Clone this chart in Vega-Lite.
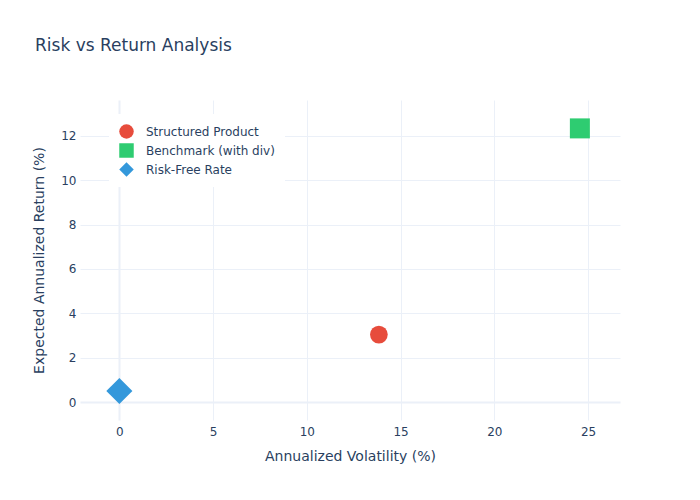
{
  "$schema": "https://vega.github.io/schema/vega-lite/v6.json",
  "width": 540,
  "height": 320,
  "autosize": {"type": "none"},
  "padding": {"left": 80, "top": 100, "right": 80, "bottom": 80},
  "background": "white",
  "title": {
    "text": "Risk vs Return Analysis",
    "anchor": "start",
    "frame": "group",
    "dx": -45,
    "offset": 45,
    "fontSize": 17,
    "fontWeight": "normal",
    "font": "DejaVu Sans",
    "color": "#2a3f5f"
  },
  "config": {
    "view": {"stroke": null},
    "font": "DejaVu Sans"
  },
  "data": {
    "values": [
      {"asset": "Structured Product", "volatility": 13.84, "expected_return": 3.04},
      {"asset": "Benchmark (with div)", "volatility": 24.56, "expected_return": 12.34},
      {"asset": "Risk-Free Rate", "volatility": 0, "expected_return": 0.5}
    ]
  },
  "encoding": {
    "x": {
      "field": "volatility",
      "type": "quantitative",
      "scale": {"domain": [-2.1, 26.7], "nice": false, "zero": false},
      "axis": {
        "title": "Annualized Volatility (%)",
        "values": [0, 5, 10, 15, 20, 25],
        "domain": false,
        "ticks": false,
        "labelPadding": 6,
        "titlePadding": 12,
        "labelFontSize": 12,
        "titleFontSize": 14,
        "titleFontWeight": "normal",
        "labelColor": "#2a3f5f",
        "titleColor": "#2a3f5f",
        "gridColor": "#EBF0F8",
        "gridWidth": {"condition": {"test": "datum.value === 0", "value": 2}, "value": 1}
      }
    },
    "y": {
      "field": "expected_return",
      "type": "quantitative",
      "scale": {"domain": [-0.81, 13.62], "nice": false, "zero": false},
      "axis": {
        "title": "Expected Annualized Return (%)",
        "values": [0, 2, 4, 6, 8, 10, 12],
        "domain": false,
        "ticks": false,
        "labelPadding": 4,
        "titlePadding": 14,
        "labelFontSize": 12,
        "titleFontSize": 14,
        "titleFontWeight": "normal",
        "labelColor": "#2a3f5f",
        "titleColor": "#2a3f5f",
        "gridColor": "#EBF0F8",
        "gridWidth": {"condition": {"test": "datum.value === 0", "value": 2}, "value": 1}
      }
    },
    "color": {
      "field": "asset",
      "type": "nominal",
      "scale": {
        "domain": ["Structured Product", "Benchmark (with div)", "Risk-Free Rate"],
        "range": ["#E74C3C", "#2ECC71", "#3498DB"]
      },
      "legend": {
        "orient": "none",
        "legendX": 29,
        "legendY": 14,
        "title": null,
        "fillColor": "white",
        "padding": 10,
        "symbolSize": 210,
        "symbolStrokeWidth": 0,
        "labelFontSize": 12,
        "labelColor": "#2a3f5f",
        "labelOffset": 12,
        "rowPadding": 4,
        "encode": {
          "symbols": {
            "update": {
              "size": {"signal": "datum.value === 'Risk-Free Rate' ? 330 : 210"}
            }
          }
        }
      }
    },
    "shape": {
      "field": "asset",
      "type": "nominal",
      "scale": {
        "domain": ["Structured Product", "Benchmark (with div)", "Risk-Free Rate"],
        "range": ["circle", "square", "diamond"]
      }
    }
  },
  "layer": [
    {
      "transform": [{"filter": "datum.asset === 'Structured Product'"}],
      "mark": {"type": "point", "filled": true, "opacity": 1, "strokeWidth": 0, "size": 314}
    },
    {
      "transform": [{"filter": "datum.asset === 'Benchmark (with div)'"}],
      "mark": {"type": "point", "filled": true, "opacity": 1, "strokeWidth": 0, "size": 400}
    },
    {
      "transform": [{"filter": "datum.asset === 'Risk-Free Rate'"}],
      "mark": {"type": "point", "filled": true, "opacity": 1, "strokeWidth": 0, "size": 680}
    }
  ]
}
